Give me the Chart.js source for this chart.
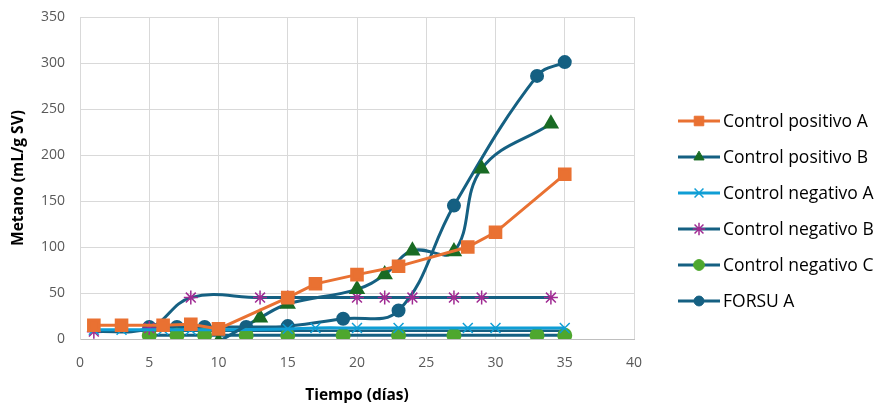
<!DOCTYPE html>
<html>
<head>
<meta charset="utf-8">
<script src="https://cdn.jsdelivr.net/npm/chart.js@4.4.1/dist/chart.umd.min.js"></script>
<style>
  html, body { margin: 0; padding: 0; background: #fff; }
  #wrap { width: 888px; height: 403px; position: relative; }
</style>
</head>
<body>
<div id="wrap"><canvas id="myChart" width="888" height="403"></canvas></div>
<script>
// data (x = día, y = mL/g SV)
const posA_x = [1, 3, 6, 8, 10, 15, 17, 20, 23, 28, 30, 35];
const posA_y = [15, 15, 15, 16, 11, 45, 60, 70, 79, 100, 116, 179];

const posB_x = [10, 13, 15, 20, 22, 24, 27, 29, 34];
const posB_y = [-3, 23, 38, 54, 70, 96, 95, 185, 234];

const negA_x = [1, 3, 6, 8, 10, 15, 17, 20, 23, 28, 30, 35];
const negA_y = [10, 10, 10, 10, 10, 11, 12, 12, 12, 12, 12, 12];

const negB_x = [1, 5, 8, 13, 15, 20, 22, 24, 27, 29, 34];
const negB_y = [8, 12, 45, 45, 45, 45, 45, 45, 45, 45, 45];

const negC_x = [5, 7, 9, 12, 15, 19, 23, 27, 33, 35];
const negC_y = [4, 4, 4, 4, 4, 4, 4, 4, 4, 4];

const forsu_x = [5, 7, 9, 12, 15, 19, 23, 27, 33, 35];
const forsu_y = [13, 13, 13, 13, 14, 22, 31, 145, 286, 301];

// flat dark line under the light blue one
const flat_x = [1, 35];
const flat_y = [9, 9];

const xTicks = [0, 5, 10, 15, 20, 25, 30, 35, 40];
const yTicks = [0, 50, 100, 150, 200, 250, 300, 350];

const toPts = (xs, ys) => xs.map((x, i) => ({x: x, y: ys[i]}));

const BLUE = '#156082';

const datasets = [{
  label: 'Control positivo A',
  data: toPts(posA_x, posA_y),
  borderColor: '#E97132', backgroundColor: '#E97132',
  pointStyle: 'rect', pointRadius: 7.5, tension: 0, borderWidth: 3
}, {
  label: 'Control positivo B',
  data: toPts(posB_x, posB_y),
  borderColor: BLUE, backgroundColor: '#196B24', pointBorderColor: '#196B24',
  pointStyle: 'triangle', pointRadius: 6.5, tension: 0.4, borderWidth: 3
}, {
  label: 'Control negativo A',
  data: toPts(negA_x, negA_y),
  borderColor: '#0F9ED5', backgroundColor: '#0F9ED5', pointBorderColor: '#0F9ED5',
  pointStyle: 'crossRot', pointRadius: 7, pointBorderWidth: 1.5, tension: 0.4, borderWidth: 3
}, {
  label: 'Control negativo B',
  data: toPts(negB_x, negB_y),
  borderColor: BLUE, backgroundColor: '#A02B93', pointBorderColor: '#A02B93',
  pointStyle: 'star', pointRadius: 7, pointBorderWidth: 1.5, tension: 0.4, borderWidth: 3
}, {
  label: 'Control negativo C',
  data: toPts(negC_x, negC_y),
  borderColor: BLUE, backgroundColor: '#4EA72E', pointBorderColor: '#4EA72E',
  pointStyle: 'circle', pointRadius: 6, tension: 0.4, borderWidth: 3
}, {
  label: 'FORSU A',
  data: toPts(forsu_x, forsu_y),
  borderColor: BLUE, backgroundColor: BLUE,
  pointStyle: 'circle', pointRadius: 5.5, tension: 0.4, borderWidth: 3
}, {
  label: '',
  noLegend: true,
  data: toPts(flat_x, flat_y),
  borderColor: BLUE, pointRadius: 0, tension: 0, borderWidth: 2.5
}];
// draw order: first dataset on top, like the picture
datasets.forEach((d, i) => { d.order = i; d.pointHoverRadius = d.pointRadius; });

// legend drawn as line + marker + text, like Excel
const sideLegend = {
  id: 'sideLegend',
  afterDraw(chart) {
    const ctx = chart.ctx;
    let y = 121;
    chart.data.datasets.forEach(ds => {
      if (ds.noLegend) return;
      ctx.save();
      ctx.strokeStyle = ds.borderColor;
      ctx.lineWidth = 3;
      ctx.beginPath();
      ctx.moveTo(678, y);
      ctx.lineTo(720, y);
      ctx.stroke();
      ctx.fillStyle = ds.backgroundColor;
      ctx.strokeStyle = ds.pointBorderColor || ds.backgroundColor;
      ctx.lineWidth = ds.pointBorderWidth || 1;
      Chart.helpers.drawPoint(ctx, {pointStyle: ds.pointStyle, radius: ds.pointRadius * 0.9, rotation: 0, borderWidth: ds.pointBorderWidth || 1}, 699, y);
      ctx.fillStyle = '#000';
      ctx.font = '17.5px "Open Sans"';
      ctx.textBaseline = 'middle';
      ctx.fillText(ds.label, 723, y + 1);
      ctx.restore();
      y += 36;
    });
  }
};

const config = {
  type: 'line',
  data: { datasets },
  options: {
    responsive: false,
    animation: false,
    layout: { padding: { top: 17, right: 254, left: 5, bottom: 0 } },
    plugins: { legend: { display: false }, tooltip: { enabled: false } },
    scales: {
      x: {
        type: 'linear', min: 0, max: 40,
        afterBuildTicks: s => { s.ticks = xTicks.map(v => ({value: v})); },
        afterFit: s => { s.height = 64; s.paddingLeft = 0; s.paddingRight = 0; },
        grid: { color: '#d9d9d9', lineWidth: 1, drawTicks: false },
        border: { color: '#bfbfbf', width: 1 },
        ticks: { color: '#595959', font: { family: 'Open Sans', size: 14 }, padding: 16 },
        title: { display: true, text: 'Tiempo (días)', color: '#000',
                 font: { family: 'Open Sans', size: 15.5, weight: 'bold' }, padding: { top: 0, bottom: -2 } }
      },
      y: {
        type: 'linear', min: 0, max: 350,
        afterBuildTicks: s => { s.ticks = yTicks.map(v => ({value: v})); },
        afterFit: s => { s.width = 75; s.paddingTop = 0; s.paddingBottom = 0; },
        grid: { color: '#d9d9d9', lineWidth: 1, drawTicks: false },
        border: { color: '#d9d9d9', width: 1 },
        ticks: { color: '#595959', font: { family: 'Open Sans', size: 14 }, padding: 15 },
        title: { display: true, text: 'Metano (mL/g SV)', color: '#000',
                 font: { family: 'Open Sans', size: 15.5, weight: 'bold' }, padding: { bottom: 2 } }
      }
    }
  },
  plugins: [sideLegend]
};

const myChart = new Chart(document.getElementById('myChart'), config);
</script>
</body>
</html>
